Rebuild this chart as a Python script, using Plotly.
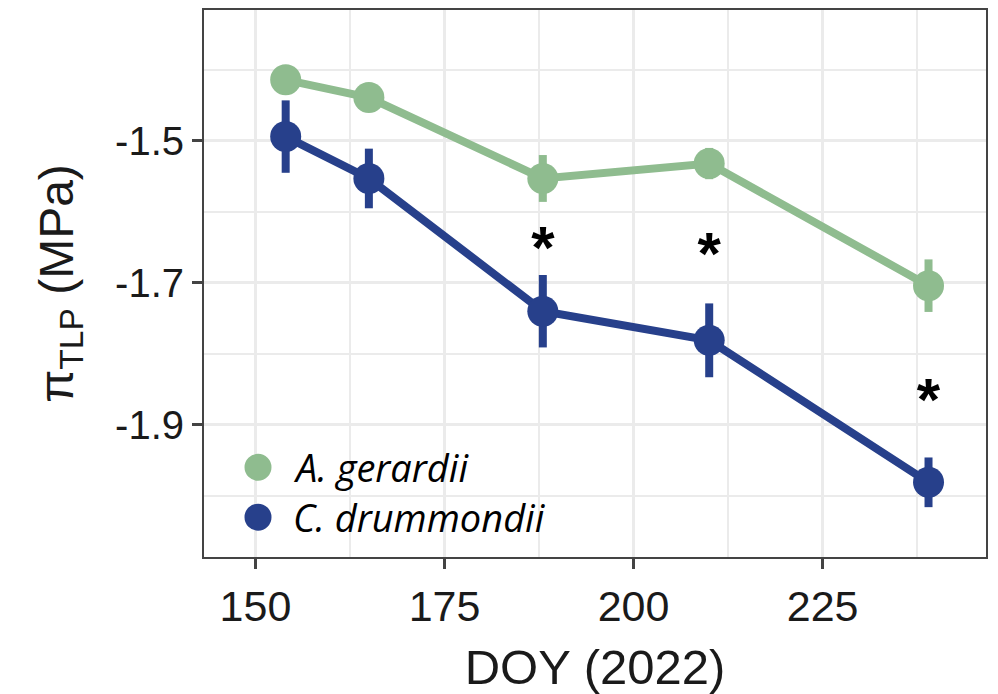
import plotly.graph_objects as go

# Turgor loss point by day of year, 2022 (mean ± SE)
doy = [154, 165, 188, 210, 239]
ag_mean = [-1.414, -1.439, -1.553, -1.532, -1.704]
ag_se = [0.008, 0.008, 0.033, 0.022, 0.037]
cd_mean = [-1.494, -1.553, -1.740, -1.781, -1.981]
cd_se = [0.051, 0.042, 0.051, 0.052, 0.035]

# significance marks between species
sig_doy = [188, 210, 239]
sig_y = [-1.658, -1.667, -1.872]

species = ["A. gerardii", "C. drummondii"]
colors = ["#8FBC8F", "#27408B"]

x_ticks = [150, 175, 200, 225]
x_minor = [162.5, 187.5, 212.5, 237.5]
y_ticks = [-1.5, -1.7, -1.9]
y_tick_labels = ["-1.5", "-1.7", "-1.9"]
y_minor = [-1.4, -1.6, -1.8, -2.0]

fig = go.Figure()

for name, mean, se, col in [(species[0], ag_mean, ag_se, colors[0]),
                            (species[1], cd_mean, cd_se, colors[1])]:
    fig.add_trace(go.Scatter(
        x=doy, y=mean, name=name, mode="lines+markers",
        line=dict(color=col, width=8),
        marker=dict(color=col, size=31),
        error_y=dict(type="data", array=se, color=col, thickness=8, width=0),
        showlegend=False,
    ))

fig.add_trace(go.Scatter(
    x=sig_doy, y=sig_y, mode="text", text=["<b>*</b>"] * len(sig_doy),
    textposition="middle center",
    textfont=dict(family="Liberation Sans", size=60, color="black"),
    showlegend=False, hoverinfo="skip",
))

# legend drawn inside the panel, bottom-left
pw, ph = 998 - 204 - 12, 694 - 8 - 137
fig.add_shape(type="rect", xref="paper", yref="paper",
              x0=0.002, x1=(578 - 204) / pw, y0=0.002, y1=(557 - 429) / ph,
              fillcolor="white", line=dict(width=0), layer="between")
for i, (name, col) in enumerate(zip(species, colors)):
    yc = (557 - (467 + 50 * i)) / ph
    xc = (258 - 204) / pw
    fig.add_shape(type="circle", xref="paper", yref="paper",
                  xsizemode="pixel", ysizemode="pixel",
                  xanchor=xc, yanchor=yc, x0=-13.5, x1=13.5, y0=-13.5, y1=13.5,
                  fillcolor=col, line=dict(width=0), layer="above")
    fig.add_annotation(x=(291 - 204) / pw, y=yc, xref="paper", yref="paper",
                       text=f"<i>{name}</i>", showarrow=False,
                       xanchor="left", yanchor="middle",
                       font=dict(family="Open Sans", size=38, color="black"))

axis_common = dict(
    showline=True, linecolor="#444444", linewidth=2, mirror=True,
    ticks="outside", ticklen=10, tickwidth=3, tickcolor="#444444",
    showgrid=True, gridcolor="#EBEBEB", gridwidth=2.5, zeroline=False,
)

fig.update_xaxes(
    range=[143.2, 246.6], tickvals=x_ticks,
    tickfont=dict(family="Liberation Sans", size=43, color="#1a1a1a"),
    minor=dict(tickvals=x_minor, showgrid=True, gridcolor="#EBEBEB",
               gridwidth=1.5, ticklen=0),
    title=dict(text="DOY (2022)", standoff=22,
               font=dict(family="Liberation Sans", size=49, color="#1a1a1a")),
    **axis_common,
)
fig.update_yaxes(
    range=[-2.0862, -1.3157], tickvals=y_ticks, ticktext=y_tick_labels,
    tickfont=dict(family="Liberation Sans", size=40, color="#1a1a1a"),
    minor=dict(tickvals=y_minor, showgrid=True, gridcolor="#EBEBEB",
               gridwidth=1.5, ticklen=0),
    title=dict(text="π<sub>TLP</sub> (MPa)", standoff=26,
               font=dict(family="Liberation Sans", size=48, color="#1a1a1a")),
    **axis_common,
)

fig.update_layout(
    width=998, height=694,
    margin=dict(l=204, r=12, t=8, b=137),
    plot_bgcolor="white", paper_bgcolor="white",
    showlegend=False,
)

fig.write_html("out.html")
